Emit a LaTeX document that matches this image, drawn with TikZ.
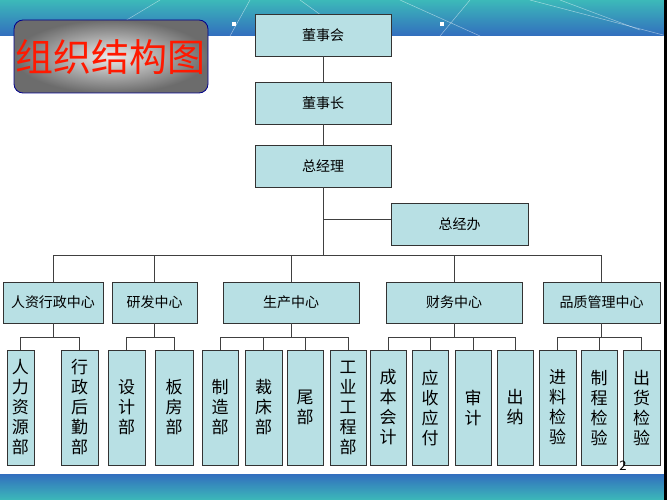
\documentclass[tikz,border=0pt]{standalone}
\usepackage{fontspec}
\setmainfont{Noto Sans CJK SC}
\usetikzlibrary{shadings}
\definecolor{bx}{RGB}{184,224,228}
\definecolor{tealA}{RGB}{60,185,185}
\definecolor{blueA}{RGB}{50,110,190}
\begin{document}
\begin{tikzpicture}[x=1pt,y=-1pt,
  box/.style={draw=black!80,fill=bx,line width=0.8pt,inner sep=0pt,font=\fontsize{14}{14}\selectfont},
  vbox/.style={box,font=\fontsize{17}{20}\selectfont,align=center},
  ln/.style={draw=black!75,line width=0.7pt}]
\useasboundingbox (0,0) rectangle (667,500);
\fill[white] (0,0) rectangle (667,500);
\shade[top color=tealA,bottom color=blueA] (0,0) rectangle (667,36);
\foreach \a/\b in {{100,36}/{160,0},{230,36}/{250,0},{300,0}/{350,36},{440,36}/{470,0},{400,0}/{480,36},{530,0}/{667,36},{560,0}/{640,30}}
  \draw[white,opacity=0.5,line width=0.5pt] (\a) -- (\b);
\fill[white] (232,22) rectangle (236,26);
\fill[white] (440,22) rectangle (444,26);
\shade[top color=blueA,bottom color=tealA] (0,474) rectangle (667,500);
\fill[black] (664,0) rectangle (667,500);
% title
\shade[inner color=white!85!gray,outer color=gray!85!black,rounded corners=9pt]
  (14,20) rectangle (208,93);
\draw[blue!55!black,line width=0.8pt,rounded corners=9pt] (14,20) rectangle (208,93);
\node[text=red!80!orange,font=\fontsize{38}{38}\selectfont] (title) at (111,57) {组织结构图};
% main
\node[box,minimum width=136pt,minimum height=42pt] (dsh) at (323,35) {董事会};
\node[box,minimum width=136pt,minimum height=42pt] (dsz) at (323,103) {董事长};
\node[box,minimum width=136pt,minimum height=42pt] (zjl) at (323,166) {总经理};
\node[box,minimum width=137pt,minimum height=42pt] (zjb) at (459.5,224) {总经办};
\draw[ln] (dsh) -- (dsz); \draw[ln] (dsz) -- (zjl);
\coordinate (j1) at (323,219);
\coordinate (bus) at (323,255);
\draw[ln] (zjl) -- (bus);
\draw[ln] (j1) -- (zjb.west|-j1);
% groups
\node[box,minimum width=100pt,minimum height=41pt] (g1) at (53,302.5) {人资行政中心};
\node[box,minimum width=85pt,minimum height=41pt] (g2) at (154.5,302.5) {研发中心};
\node[box,minimum width=136pt,minimum height=41pt] (g3) at (291,302.5) {生产中心};
\node[box,minimum width=136pt,minimum height=41pt] (g4) at (454,302.5) {财务中心};
\node[box,minimum width=117pt,minimum height=41pt] (g5) at (601.5,302.5) {品质管理中心};
\draw[ln] (g1.north|-bus) -- (g5.north|-bus);
\foreach \g in {g1,g2,g3,g4,g5} \draw[ln] (\g.north|-bus) -- (\g.north);
% subs
\foreach \n/\xa/\xb/\t in {s1/7/34/人\\力\\资\\源\\部, s2/61/98/行\\政\\后\\勤\\部, s3/108/145/设\\计\\部, s4/155/193/板\\房\\部,
  s5/202/238/制\\造\\部, s6/245/282/裁\\床\\部, s7/287/323/尾\\部, s8/330/366/工\\业\\工\\程\\部,
  s9/370/406/成\\本\\会\\计, s10/412/448/应\\收\\应\\付, s11/455/491/审\\计, s12/497/533/出\\纳,
  s13/539/576/进\\料\\检\\验, s14/581/617/制\\程\\检\\验, s15/623/660/出\\货\\检\\验}
  \node[vbox,minimum width={\xb-\xa},minimum height=115pt] (\n) at ({(\xa+\xb)/2},407.5) {\t};
\foreach \g/\a/\b/\list in {g1/s1/s2/{s1,s2}, g2/s3/s4/{s3,s4}, g3/s5/s8/{s5,s6,s7,s8}, g4/s9/s12/{s9,s10,s11,s12}, g5/s13/s15/{s13,s14,s15}}{
  \coordinate (\g b) at (0,337);
  \draw[ln] (\g.south) -- (\g.south|-\g b);
  \draw[ln] (\a.north|-\g b) -- (\b.north|-\g b);
  \foreach \s in \list \draw[ln] (\s.north|-\g b) -- (\s.north);
}
\node[font=\fontsize{13}{13}\selectfont] (pg) at (623,466) {2};
\end{tikzpicture}
\end{document}
